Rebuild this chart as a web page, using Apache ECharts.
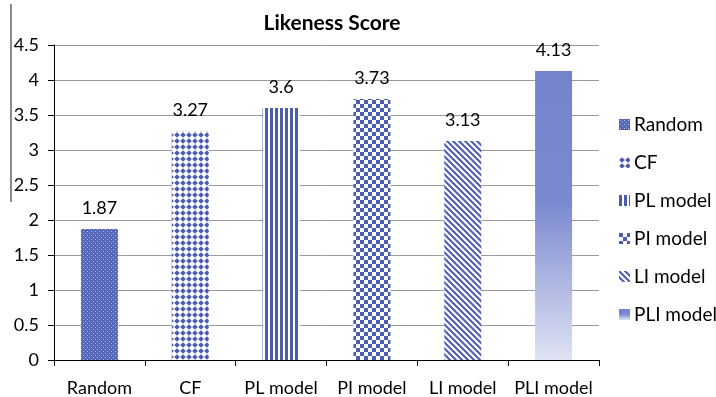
<!DOCTYPE html>
<html>
<head>
<meta charset="utf-8">
<script src="https://cdn.jsdelivr.net/npm/echarts@6/dist/echarts.min.js"></script>
<style>
  html, body { margin: 0; padding: 0; background: #fff; }
  #chart { width: 716px; height: 397px; }
</style>
</head>
<body>
<div id="chart"></div>
<script>
// Likeness score per recommendation approach
const categories = ['Random', 'CF', 'PL model', 'PI model', 'LI model', 'PLI model'];
const scores = [1.87, 3.27, 3.6, 3.73, 3.13, 4.13];
const yTicks = { min: 0, max: 4.5, step: 0.5 };

const BLUE = '#4a5db0';

// Small canvas tiles used as fill patterns for the bars
function tile(w, h, draw) {
  const c = document.createElement('canvas');
  c.width = w; c.height = h;
  const g = c.getContext('2d');
  g.fillStyle = '#fff';
  g.fillRect(0, 0, w, h);
  g.fillStyle = BLUE;
  g.strokeStyle = BLUE;
  draw(g);
  return { image: c, repeat: 'repeat' };
}

const fills = [
  // fine dither
  tile(4, 4, g => {
    g.fillStyle = '#5566b6'; g.fillRect(0, 0, 4, 4);
    g.fillStyle = '#b4bde3'; g.fillRect(1, 1, 1, 1); g.fillRect(3, 3, 1, 1);
  }),
  // small diamonds
  tile(6, 6, g => {
    g.beginPath(); g.moveTo(3, 0.2); g.lineTo(5.8, 3); g.lineTo(3, 5.8); g.lineTo(0.2, 3); g.closePath(); g.fill();
  }),
  // vertical stripes
  tile(5, 1, g => { g.fillRect(0, 0, 3, 1); }),
  // checkerboard
  tile(8, 8, g => { g.fillRect(0, 0, 4, 4); g.fillRect(4, 4, 4, 4); }),
  // diagonal stripes
  tile(6, 6, g => {
    g.lineWidth = 2;
    g.beginPath();
    g.moveTo(-1, -1); g.lineTo(7, 7);
    g.moveTo(-7, -1); g.lineTo(1, 7);
    g.moveTo(5, -1); g.lineTo(13, 7);
    g.stroke();
  }),
  // vertical gradient
  {
    type: 'linear', x: 0, y: 0, x2: 0, y2: 1,
    colorStops: [
      { offset: 0, color: '#7483cc' },
      { offset: 0.45, color: '#7a88cf' },
      { offset: 1, color: '#dfe3f3' }
    ]
  }
];

const FONT = 'Lato, "Open Sans", sans-serif';

const series = categories.map((name, i) => ({
  name: name,
  type: 'bar',
  stack: 'all',
  barWidth: 37,
  data: categories.map((_, j) => (j === i ? scores[i] : null)),
  itemStyle: { color: fills[i] },
  label: {
    show: true,
    position: 'top',
    distance: 12,
    color: '#000',
    fontFamily: FONT,
    fontSize: 18,
    formatter: p => String(p.value)
  }
}));

const chart = echarts.init(document.getElementById('chart'), null, { renderer: 'canvas' });
chart.setOption({
  animation: false,
  backgroundColor: '#fff',
  title: {
    text: 'Likeness Score',
    left: 327, top: 8, textAlign: 'center',
    textStyle: { fontFamily: FONT, fontWeight: 'bold', fontSize: 21, color: '#000' }
  },
  legend: {
    orient: 'vertical',
    left: 614, top: 110,
    itemWidth: 11, itemHeight: 11,
    itemGap: 19,
    icon: 'rect',
    textStyle: { fontFamily: FONT, fontSize: 19, color: '#000', padding: [0, 0, 0, -1] },
    data: categories
  },
  grid: { left: 54, right: 117, top: 45, bottom: 36 },
  xAxis: {
    type: 'category',
    data: categories,
    axisLine: { lineStyle: { color: '#000', width: 1 } },
    axisTick: { show: true, length: 6, alignWithLabel: false, lineStyle: { color: '#000' } },
    axisLabel: { color: '#000', fontFamily: FONT, fontSize: 18, margin: 19, interval: 0 }
  },
  yAxis: {
    type: 'value',
    min: yTicks.min, max: yTicks.max, interval: yTicks.step,
    axisLine: { show: true, lineStyle: { color: '#000', width: 1 } },
    axisTick: { show: true, length: 6, lineStyle: { color: '#000' } },
    axisLabel: { color: '#000', fontFamily: FONT, fontSize: 18, margin: 15 },
    splitLine: { lineStyle: { color: '#9a9a9a', width: 1 } }
  },
  graphic: [{
    type: 'line',
    shape: { x1: 11, y1: 4, x2: 11, y2: 202 },
    style: { stroke: '#8a8a8a', lineWidth: 2 }
  }],
  series: series
});
</script>
</body>
</html>
